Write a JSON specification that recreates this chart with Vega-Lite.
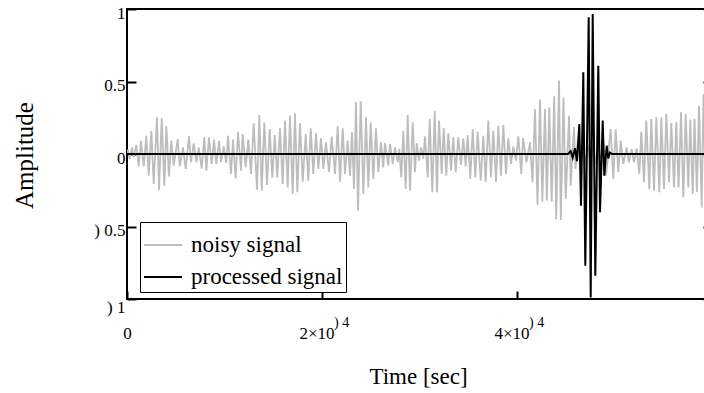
{
"$schema": "https://vega.github.io/schema/vega-lite/v6.json",
"width": 585,
"height": 290,
"autosize": {"type": "none"},
"padding": {"left": 127, "top": 9, "right": 0, "bottom": 94},
"background": "white",
"config": {
  "view": {"stroke": "black", "strokeWidth": 2},
  "font": "Liberation Serif",
  "axis": {"grid": false, "domain": false, "tickColor": "black", "tickWidth": 2, "labelColor": "black", "titleColor": "black", "labelFont": "Liberation Serif", "titleFont": "Liberation Serif", "labelFontSize": 17, "titleFontSize": 23, "titleFontWeight": "normal", "labelOverlap": false, "labelFlush": false},
  "legend": {"labelFont": "Liberation Serif", "labelFontSize": 23, "labelColor": "black"}
},
"datasets": {
  "sig": [
    {"series":"noisy signal","t":0,"v":0},
    {"series":"noisy signal","t":103,"v":0.03},
    {"series":"noisy signal","t":277,"v":-0.034},
    {"series":"noisy signal","t":513,"v":0.046},
    {"series":"noisy signal","t":687,"v":-0.023},
    {"series":"noisy signal","t":954,"v":0.062},
    {"series":"noisy signal","t":1200,"v":-0.085},
    {"series":"noisy signal","t":1436,"v":0.09},
    {"series":"noisy signal","t":1713,"v":-0.085},
    {"series":"noisy signal","t":1979,"v":0.126},
    {"series":"noisy signal","t":2226,"v":-0.149},
    {"series":"noisy signal","t":2492,"v":0.16},
    {"series":"noisy signal","t":2738,"v":-0.207},
    {"series":"noisy signal","t":3077,"v":0.253},
    {"series":"noisy signal","t":3282,"v":-0.248},
    {"series":"noisy signal","t":3559,"v":0.246},
    {"series":"noisy signal","t":3826,"v":-0.218},
    {"series":"noisy signal","t":4031,"v":0.191},
    {"series":"noisy signal","t":4308,"v":-0.154},
    {"series":"noisy signal","t":4544,"v":0.092},
    {"series":"noisy signal","t":4790,"v":-0.08},
    {"series":"noisy signal","t":5200,"v":0.103},
    {"series":"noisy signal","t":5405,"v":-0.085},
    {"series":"noisy signal","t":5744,"v":0.046},
    {"series":"noisy signal","t":6021,"v":-0.103},
    {"series":"noisy signal","t":6359,"v":0.122},
    {"series":"noisy signal","t":6564,"v":-0.057},
    {"series":"noisy signal","t":6841,"v":0.074},
    {"series":"noisy signal","t":7108,"v":-0.057},
    {"series":"noisy signal","t":7354,"v":0.046},
    {"series":"noisy signal","t":7662,"v":-0.099},
    {"series":"noisy signal","t":7928,"v":0.115},
    {"series":"noisy signal","t":8133,"v":-0.115},
    {"series":"noisy signal","t":8410,"v":0.115},
    {"series":"noisy signal","t":8687,"v":-0.069},
    {"series":"noisy signal","t":8923,"v":0.099},
    {"series":"noisy signal","t":9159,"v":-0.069},
    {"series":"noisy signal","t":9436,"v":0.092},
    {"series":"noisy signal","t":9641,"v":-0.057},
    {"series":"noisy signal","t":9918,"v":0.053},
    {"series":"noisy signal","t":10185,"v":-0.062},
    {"series":"noisy signal","t":10359,"v":0.126},
    {"series":"noisy signal","t":10667,"v":-0.138},
    {"series":"noisy signal","t":10872,"v":0.099},
    {"series":"noisy signal","t":11149,"v":-0.168},
    {"series":"noisy signal","t":11385,"v":0.154},
    {"series":"noisy signal","t":11692,"v":-0.115},
    {"series":"noisy signal","t":11867,"v":0.138},
    {"series":"noisy signal","t":12174,"v":-0.092},
    {"series":"noisy signal","t":12441,"v":0.099},
    {"series":"noisy signal","t":12718,"v":-0.138},
    {"series":"noisy signal","t":12995,"v":0.212},
    {"series":"noisy signal","t":13333,"v":-0.246},
    {"series":"noisy signal","t":13569,"v":0.269},
    {"series":"noisy signal","t":13815,"v":-0.253},
    {"series":"noisy signal","t":14082,"v":0.218},
    {"series":"noisy signal","t":14359,"v":-0.214},
    {"series":"noisy signal","t":14636,"v":0.172},
    {"series":"noisy signal","t":14903,"v":-0.161},
    {"series":"noisy signal","t":15149,"v":0.13},
    {"series":"noisy signal","t":15415,"v":-0.161},
    {"series":"noisy signal","t":15692,"v":0.177},
    {"series":"noisy signal","t":15969,"v":-0.207},
    {"series":"noisy signal","t":16205,"v":0.23},
    {"series":"noisy signal","t":16482,"v":-0.23},
    {"series":"noisy signal","t":16718,"v":0.264},
    {"series":"noisy signal","t":16995,"v":-0.276},
    {"series":"noisy signal","t":17231,"v":0.28},
    {"series":"noisy signal","t":17467,"v":-0.264},
    {"series":"noisy signal","t":17744,"v":0.212},
    {"series":"noisy signal","t":18021,"v":-0.191},
    {"series":"noisy signal","t":18328,"v":0.138},
    {"series":"noisy signal","t":18595,"v":-0.184},
    {"series":"noisy signal","t":18841,"v":0.177},
    {"series":"noisy signal","t":19108,"v":-0.138},
    {"series":"noisy signal","t":19385,"v":0.143},
    {"series":"noisy signal","t":19621,"v":-0.103},
    {"series":"noisy signal","t":19897,"v":0.108},
    {"series":"noisy signal","t":20133,"v":-0.103},
    {"series":"noisy signal","t":20410,"v":0.08},
    {"series":"noisy signal","t":20718,"v":-0.126},
    {"series":"noisy signal","t":20995,"v":0.12},
    {"series":"noisy signal","t":21333,"v":-0.138},
    {"series":"noisy signal","t":21610,"v":0.191},
    {"series":"noisy signal","t":21846,"v":-0.191},
    {"series":"noisy signal","t":22123,"v":0.177},
    {"series":"noisy signal","t":22359,"v":-0.138},
    {"series":"noisy signal","t":22636,"v":0.092},
    {"series":"noisy signal","t":22872,"v":-0.149},
    {"series":"noisy signal","t":23077,"v":0.149},
    {"series":"noisy signal","t":23282,"v":-0.241},
    {"series":"noisy signal","t":23487,"v":0.361},
    {"series":"noisy signal","t":23692,"v":-0.391},
    {"series":"noisy signal","t":23969,"v":0.363},
    {"series":"noisy signal","t":24236,"v":-0.276},
    {"series":"noisy signal","t":24513,"v":0.253},
    {"series":"noisy signal","t":24749,"v":-0.23},
    {"series":"noisy signal","t":24995,"v":0.218},
    {"series":"noisy signal","t":25262,"v":-0.172},
    {"series":"noisy signal","t":25538,"v":0.177},
    {"series":"noisy signal","t":25774,"v":-0.126},
    {"series":"noisy signal","t":26051,"v":0.08},
    {"series":"noisy signal","t":26287,"v":-0.092},
    {"series":"noisy signal","t":26462,"v":0.076},
    {"series":"noisy signal","t":26800,"v":-0.08},
    {"series":"noisy signal","t":26974,"v":0.069},
    {"series":"noisy signal","t":27251,"v":-0.069},
    {"series":"noisy signal","t":27487,"v":0.046},
    {"series":"noisy signal","t":27764,"v":-0.057},
    {"series":"noisy signal","t":27928,"v":0.034},
    {"series":"noisy signal","t":28133,"v":-0.161},
    {"series":"noisy signal","t":28338,"v":0.161},
    {"series":"noisy signal","t":28585,"v":-0.241},
    {"series":"noisy signal","t":28790,"v":0.269},
    {"series":"noisy signal","t":29026,"v":-0.253},
    {"series":"noisy signal","t":29303,"v":0.218},
    {"series":"noisy signal","t":29538,"v":-0.126},
    {"series":"noisy signal","t":29713,"v":0.075},
    {"series":"noisy signal","t":29949,"v":-0.046},
    {"series":"noisy signal","t":30154,"v":0.046},
    {"series":"noisy signal","t":30390,"v":-0.034},
    {"series":"noisy signal","t":30564,"v":0.122},
    {"series":"noisy signal","t":30841,"v":-0.161},
    {"series":"noisy signal","t":31046,"v":0.241},
    {"series":"noisy signal","t":31313,"v":-0.264},
    {"series":"noisy signal","t":31559,"v":0.299},
    {"series":"noisy signal","t":31795,"v":-0.264},
    {"series":"noisy signal","t":32000,"v":0.23},
    {"series":"noisy signal","t":32277,"v":-0.138},
    {"series":"noisy signal","t":32482,"v":0.179},
    {"series":"noisy signal","t":32749,"v":-0.149},
    {"series":"noisy signal","t":32954,"v":0.145},
    {"series":"noisy signal","t":33231,"v":-0.115},
    {"series":"noisy signal","t":33467,"v":0.115},
    {"series":"noisy signal","t":33713,"v":-0.126},
    {"series":"noisy signal","t":33980,"v":0.115},
    {"series":"noisy signal","t":34256,"v":-0.076},
    {"series":"noisy signal","t":34492,"v":0.108},
    {"series":"noisy signal","t":34738,"v":-0.085},
    {"series":"noisy signal","t":34944,"v":0.131},
    {"series":"noisy signal","t":35210,"v":-0.172},
    {"series":"noisy signal","t":35456,"v":0.172},
    {"series":"noisy signal","t":35723,"v":-0.161},
    {"series":"noisy signal","t":35969,"v":0.154},
    {"series":"noisy signal","t":36277,"v":-0.184},
    {"series":"noisy signal","t":36544,"v":0.126},
    {"series":"noisy signal","t":36790,"v":-0.195},
    {"series":"noisy signal","t":37056,"v":0.23},
    {"series":"noisy signal","t":37333,"v":-0.161},
    {"series":"noisy signal","t":37569,"v":0.161},
    {"series":"noisy signal","t":37846,"v":-0.191},
    {"series":"noisy signal","t":38082,"v":0.195},
    {"series":"noisy signal","t":38359,"v":-0.149},
    {"series":"noisy signal","t":38595,"v":0.2},
    {"series":"noisy signal","t":38872,"v":-0.138},
    {"series":"noisy signal","t":39108,"v":0.108},
    {"series":"noisy signal","t":39385,"v":-0.069},
    {"series":"noisy signal","t":39621,"v":0.053},
    {"series":"noisy signal","t":39897,"v":-0.046},
    {"series":"noisy signal","t":40133,"v":0.122},
    {"series":"noisy signal","t":40441,"v":-0.138},
    {"series":"noisy signal","t":40615,"v":0.11},
    {"series":"noisy signal","t":40974,"v":-0.057},
    {"series":"noisy signal","t":41333,"v":0.08},
    {"series":"noisy signal","t":41590,"v":-0.195},
    {"series":"noisy signal","t":41846,"v":0.31},
    {"series":"noisy signal","t":42103,"v":-0.35},
    {"series":"noisy signal","t":42359,"v":0.375},
    {"series":"noisy signal","t":42595,"v":-0.33},
    {"series":"noisy signal","t":42872,"v":0.31},
    {"series":"noisy signal","t":43056,"v":-0.32},
    {"series":"noisy signal","t":43313,"v":0.322},
    {"series":"noisy signal","t":43559,"v":-0.33},
    {"series":"noisy signal","t":43815,"v":0.398},
    {"series":"noisy signal","t":44021,"v":-0.45},
    {"series":"noisy signal","t":44308,"v":0.506},
    {"series":"noisy signal","t":44492,"v":-0.455},
    {"series":"noisy signal","t":44769,"v":0.39},
    {"series":"noisy signal","t":44995,"v":-0.31},
    {"series":"noisy signal","t":45333,"v":0.264},
    {"series":"noisy signal","t":45508,"v":-0.218},
    {"series":"noisy signal","t":45846,"v":0.184},
    {"series":"noisy signal","t":46000,"v":-0.103},
    {"series":"noisy signal","t":46256,"v":0.12},
    {"series":"noisy signal","t":46513,"v":-0.1},
    {"series":"noisy signal","t":46769,"v":0.08},
    {"series":"noisy signal","t":47026,"v":-0.07},
    {"series":"noisy signal","t":47282,"v":0.06},
    {"series":"noisy signal","t":47538,"v":-0.06},
    {"series":"noisy signal","t":47795,"v":0.06},
    {"series":"noisy signal","t":48051,"v":-0.07},
    {"series":"noisy signal","t":48308,"v":0.08},
    {"series":"noisy signal","t":48564,"v":-0.09},
    {"series":"noisy signal","t":48821,"v":0.1},
    {"series":"noisy signal","t":49128,"v":-0.15},
    {"series":"noisy signal","t":49610,"v":0.172},
    {"series":"noisy signal","t":49877,"v":-0.172},
    {"series":"noisy signal","t":50123,"v":0.168},
    {"series":"noisy signal","t":50390,"v":-0.126},
    {"series":"noisy signal","t":50636,"v":0.092},
    {"series":"noisy signal","t":50892,"v":-0.069},
    {"series":"noisy signal","t":51251,"v":0.046},
    {"series":"noisy signal","t":51467,"v":-0.057},
    {"series":"noisy signal","t":51764,"v":0.034},
    {"series":"noisy signal","t":52000,"v":-0.057},
    {"series":"noisy signal","t":52277,"v":0.039},
    {"series":"noisy signal","t":52544,"v":-0.138},
    {"series":"noisy signal","t":52749,"v":0.154},
    {"series":"noisy signal","t":53026,"v":-0.195},
    {"series":"noisy signal","t":53262,"v":0.23},
    {"series":"noisy signal","t":53569,"v":-0.241},
    {"series":"noisy signal","t":53774,"v":0.241},
    {"series":"noisy signal","t":54051,"v":-0.253},
    {"series":"noisy signal","t":54287,"v":0.253},
    {"series":"noisy signal","t":54595,"v":-0.264},
    {"series":"noisy signal","t":54800,"v":0.253},
    {"series":"noisy signal","t":55077,"v":-0.241},
    {"series":"noisy signal","t":55313,"v":0.276},
    {"series":"noisy signal","t":55590,"v":-0.195},
    {"series":"noisy signal","t":55826,"v":0.214},
    {"series":"noisy signal","t":56103,"v":-0.23},
    {"series":"noisy signal","t":56338,"v":0.218},
    {"series":"noisy signal","t":56574,"v":-0.23},
    {"series":"noisy signal","t":56821,"v":0.287},
    {"series":"noisy signal","t":57056,"v":-0.299},
    {"series":"noisy signal","t":57303,"v":0.276},
    {"series":"noisy signal","t":57569,"v":-0.23},
    {"series":"noisy signal","t":57774,"v":0.237},
    {"series":"noisy signal","t":58021,"v":-0.276},
    {"series":"noisy signal","t":58205,"v":0.241},
    {"series":"noisy signal","t":58451,"v":-0.264},
    {"series":"noisy signal","t":58667,"v":0.333},
    {"series":"noisy signal","t":58944,"v":-0.368},
    {"series":"noisy signal","t":59128,"v":0.414},
    {"series":"noisy signal","t":59385,"v":-0.4},
    {"series":"noisy signal","t":59641,"v":0.38},
    {"series":"noisy signal","t":59900,"v":-0.35},
    {"series":"processed signal","t":0,"v":0},
    {"series":"processed signal","t":45231,"v":0},
    {"series":"processed signal","t":45508,"v":0.02},
    {"series":"processed signal","t":45713,"v":-0.025},
    {"series":"processed signal","t":45949,"v":0.04},
    {"series":"processed signal","t":46154,"v":-0.05},
    {"series":"processed signal","t":46390,"v":0.207},
    {"series":"processed signal","t":46564,"v":-0.356},
    {"series":"processed signal","t":46800,"v":0.563},
    {"series":"processed signal","t":47005,"v":-0.77},
    {"series":"processed signal","t":47354,"v":0.943},
    {"series":"processed signal","t":47559,"v":-0.99},
    {"series":"processed signal","t":47764,"v":0.966},
    {"series":"processed signal","t":48031,"v":-0.839},
    {"series":"processed signal","t":48338,"v":0.609},
    {"series":"processed signal","t":48513,"v":-0.402},
    {"series":"processed signal","t":48790,"v":0.23},
    {"series":"processed signal","t":48954,"v":-0.149},
    {"series":"processed signal","t":49200,"v":0.057},
    {"series":"processed signal","t":49364,"v":-0.03},
    {"series":"processed signal","t":49538,"v":0.01},
    {"series":"processed signal","t":49744,"v":0},
    {"series":"processed signal","t":60000,"v":0}
  ],
  "exp": [
    {"t": 20000, "sup": ") 4"},
    {"t": 40000, "sup": ") 4"}
  ]
},
"layer": [
  {
    "data": {"name": "sig"},
    "mark": {"type": "line", "clip": true},
    "encoding": {
      "x": {"field": "t", "type": "quantitative",
        "scale": {"domain": [0, 60000], "nice": false, "zero": false},
        "axis": {"values": [0, 20000, 40000],
          "labelExpr": "datum.value == 0 ? '0' : format(datum.value / 10000, 'd') + '×10'",
          "tickSize": -8,
          "labelPadding": 47,
          "labelBaseline": "alphabetic",
          "labelAlign": {"condition": {"test": "datum.value == 0", "value": "center"}, "value": "right"},
          "labelOffset": {"condition": {"test": "datum.value == 0", "value": 0}, "value": 12},
          "title": "Time [sec]",
          "titleFontSize": 23,
          "titleX": 291, "titleY": 84, "titleBaseline": "alphabetic", "titleAlign": "center"}},
      "y": {"field": "v", "type": "quantitative",
        "scale": {"domain": [-1, 1], "nice": false},
        "axis": {"values": [-1, -0.5, 0, 0.5, 1],
          "labelExpr": "(datum.value < 0 ? ') ' : '') + format(abs(datum.value), '~g')",
          "tickSize": -9,
          "labelPadding": 11,
          "labelBaseline": "alphabetic",
          "labelOffset": {"condition": {"test": "datum.value == -1", "value": 13}, "value": 9},
          "title": "Amplitude",
          "titleFontSize": 25,
          "titleX": -95, "titleY": 146, "titleAngle": -90, "titleBaseline": "alphabetic", "titleAlign": "center"}},
      "color": {"field": "series", "type": "nominal",
        "scale": {"domain": ["noisy signal", "processed signal"], "range": ["#bdbdbd", "#000000"]},
        "legend": {"title": null, "orient": "none", "legendX": 13, "legendY": 213,
          "symbolType": "stroke", "symbolSize": 1444, "symbolStrokeWidth": 1.5,
          "strokeColor": "black", "fillColor": "white", "padding": 3, "rowPadding": 0, "labelOffset": 8}},
      "strokeWidth": {"field": "series", "type": "nominal",
        "scale": {"domain": ["noisy signal", "processed signal"], "range": [1.8, 2]}, "legend": null}
    }
  },
  {
    "data": {"name": "exp"},
    "mark": {"type": "text", "align": "left", "baseline": "alphabetic", "dx": 12, "dy": 28, "fontSize": 14, "font": "Liberation Serif", "color": "black"},
    "encoding": {
      "x": {"field": "t", "type": "quantitative"},
      "y": {"datum": -1, "type": "quantitative",
        "axis": {"orient": "right", "values": [-1, -0.5, 0, 0.5, 1], "labels": false, "tickSize": -9, "title": null}},
      "text": {"field": "sup"}
    }
  }
],
"resolve": {"axis": {"y": "independent"}}
}
